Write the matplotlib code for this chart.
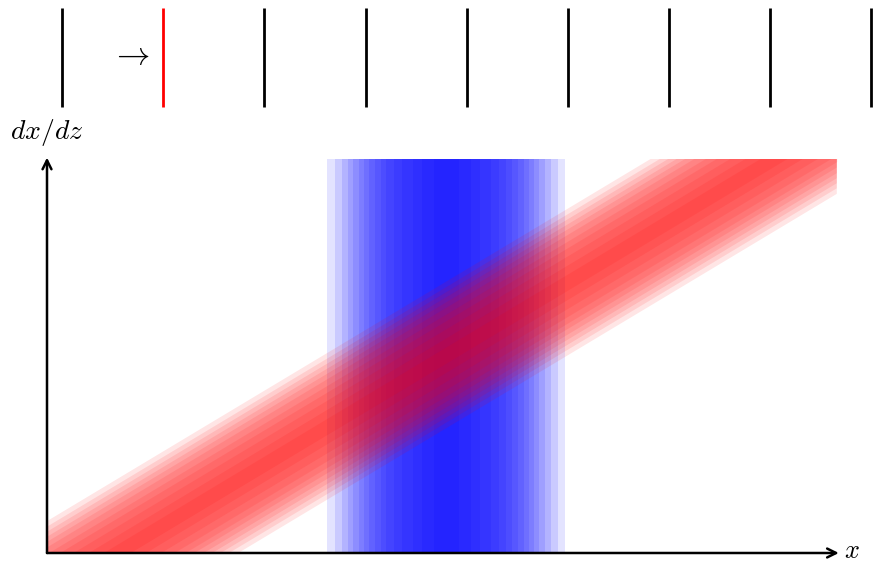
import matplotlib.pyplot as plt
from matplotlib.patches import Rectangle
import numpy as np

plt.rcParams['mathtext.fontset'] = 'cm'

# plot region (units of the drawing)
x_max, y_max = 7.81, 3.9

# blue vertical band: centre and layer half-widths (outer -> inner)
blue_center = 3.95
blue_half = [1.177, 1.100, 1.034, 0.975, 0.920, 0.868, 0.820, 0.766,
             0.709, 0.651, 0.593, 0.52, 0.44, 0.33, 0.24, 0.12]

# red diagonal band: centre line and vertical half-thickness of layers
red_slope, red_icpt = 0.6, -0.41
red_half = [0.725, 0.67, 0.62, 0.57, 0.52, 0.465, 0.405, 0.34, 0.26, 0.17, 0.08]

# top row of vertical markers
marker_x = [0.15 + k for k in range(9)]
marker_col = ['black', 'red'] + ['black'] * 7

fig = plt.figure(figsize=(8.73, 5.64), dpi=100)
ax = fig.add_axes([0, 0, 1, 1])
ax.set_xlim(-0.4648, 8.168)
ax.set_ylim(-0.1088, 5.468)
ax.axis('off')

# blue band (stacked translucent rectangles)
for h in blue_half:
    ax.bar(blue_center, y_max, width=2 * h, bottom=0, color='blue',
           alpha=0.11, linewidth=0, zorder=1)

# red band, clipped to the plot region
clip = Rectangle((0, 0), x_max, y_max, transform=ax.transData)
xs = np.array([0, x_max])
for h in red_half:
    centre = red_slope * xs + red_icpt
    poly = ax.fill_between(xs, centre - h, centre + h, color='red',
                           alpha=0.1, linewidth=0, zorder=2)
    poly.set_clip_path(clip)

# axes with arrows
arrow = dict(arrowstyle='->', color='black', lw=1.8, mutation_scale=16,
             shrinkA=0, shrinkB=0)
ax.annotate('', xy=(0, y_max + 0.01), xytext=(0, 0), arrowprops=arrow, zorder=5)
ax.annotate('', xy=(x_max + 0.02, 0), xytext=(0, 0), arrowprops=arrow, zorder=5)
ax.text(0, 4.16, r'$dx/dz$', fontsize=20, ha='center', va='center')
ax.text(7.88, 0.02, r'$x$', fontsize=19, ha='left', va='center')

# top markers
ax.vlines(marker_x, 4.41, 5.39, colors=marker_col, lw=2.0)
ax.text(0.83, 4.93, r'$\rightarrow$', fontsize=24, ha='center', va='center')

fig.savefig('out.png', dpi=100, facecolor='white')
